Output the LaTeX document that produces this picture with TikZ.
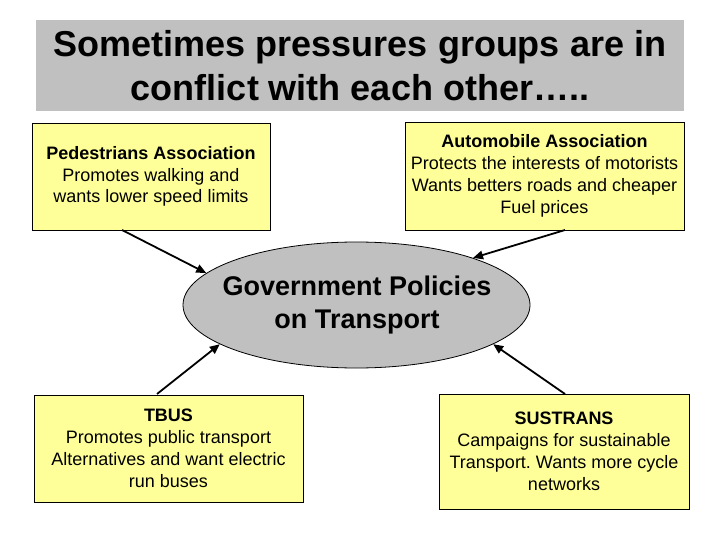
\documentclass[tikz,border=0pt]{standalone}
\usepackage{fontspec}
\setmainfont{Liberation Sans}
\usetikzlibrary{arrows.meta,shapes.geometric}
\definecolor{boxyellow}{HTML}{FFFF99}
\definecolor{panelgray}{HTML}{C0C0C0}
\frenchspacing
\tikzset{
  grp/.style={draw=black, line width=0.8pt, fill=boxyellow, align=center, inner sep=0pt,
    font=\fontsize{18}{21.8}\selectfont},
  conn/.style={line width=1.8pt, -{Triangle[length=10pt,width=8.5pt]}},
}
\begin{document}
\begin{tikzpicture}[x=1pt,y=-1pt]
\useasboundingbox (0,0) rectangle (720,540);
\fill[white] (0,0) rectangle (720,540);
\node[fill=panelgray, minimum width=648pt, minimum height=91pt, inner sep=0pt, align=center,
  font=\fontsize{36}{44}\selectfont\bfseries] (title) at (360,66)
  {Sometimes pressures groups are in\\conflict with each other\dots..};
\node[grp, minimum width=238pt, minimum height=107pt] (ped) at (151,176.5)
  {\textbf{Pedestrians Association}\\Promotes walking and\\wants lower speed limits};
\node[grp, minimum width=279pt, minimum height=108pt] (auto) at (544.5,176)
  {\textbf{Automobile Association}\\Protects the interests of motorists\\Wants betters roads and cheaper\\Fuel prices};
\node[grp, minimum width=269pt, minimum height=107pt] (tbus) at (168.5,448.5)
  {\textbf{TBUS}\\Promotes public transport\\Alternatives and want electric\\run buses};
\node[grp, minimum width=250pt, minimum height=115pt] (sus) at (564,451.5)
  {\textbf{SUSTRANS}\\Campaigns for sustainable\\Transport. Wants more cycle\\networks};
\node[ellipse, draw=black, line width=0.8pt, fill=panelgray, minimum width=347pt, minimum height=126pt,
  inner sep=0pt] (gov) at (356.5,305) {};
\node[inner sep=0pt, align=center, font=\fontsize{27}{33}\selectfont\bfseries] (govtext) at (357,305.5)
  {Government Policies\\on Transport};
\coordinate (p1) at (122,230);
\coordinate (p2) at (565,230);
\coordinate (p3) at (157,394);
\coordinate (p4) at (565,394);
\draw[conn] (p1) -- (gov.168);
\draw[conn] (p2) -- (gov.22);
\draw[conn] (p3) -- (gov.196);
\draw[conn] (p4) -- (gov.344);
\end{tikzpicture}
\end{document}
